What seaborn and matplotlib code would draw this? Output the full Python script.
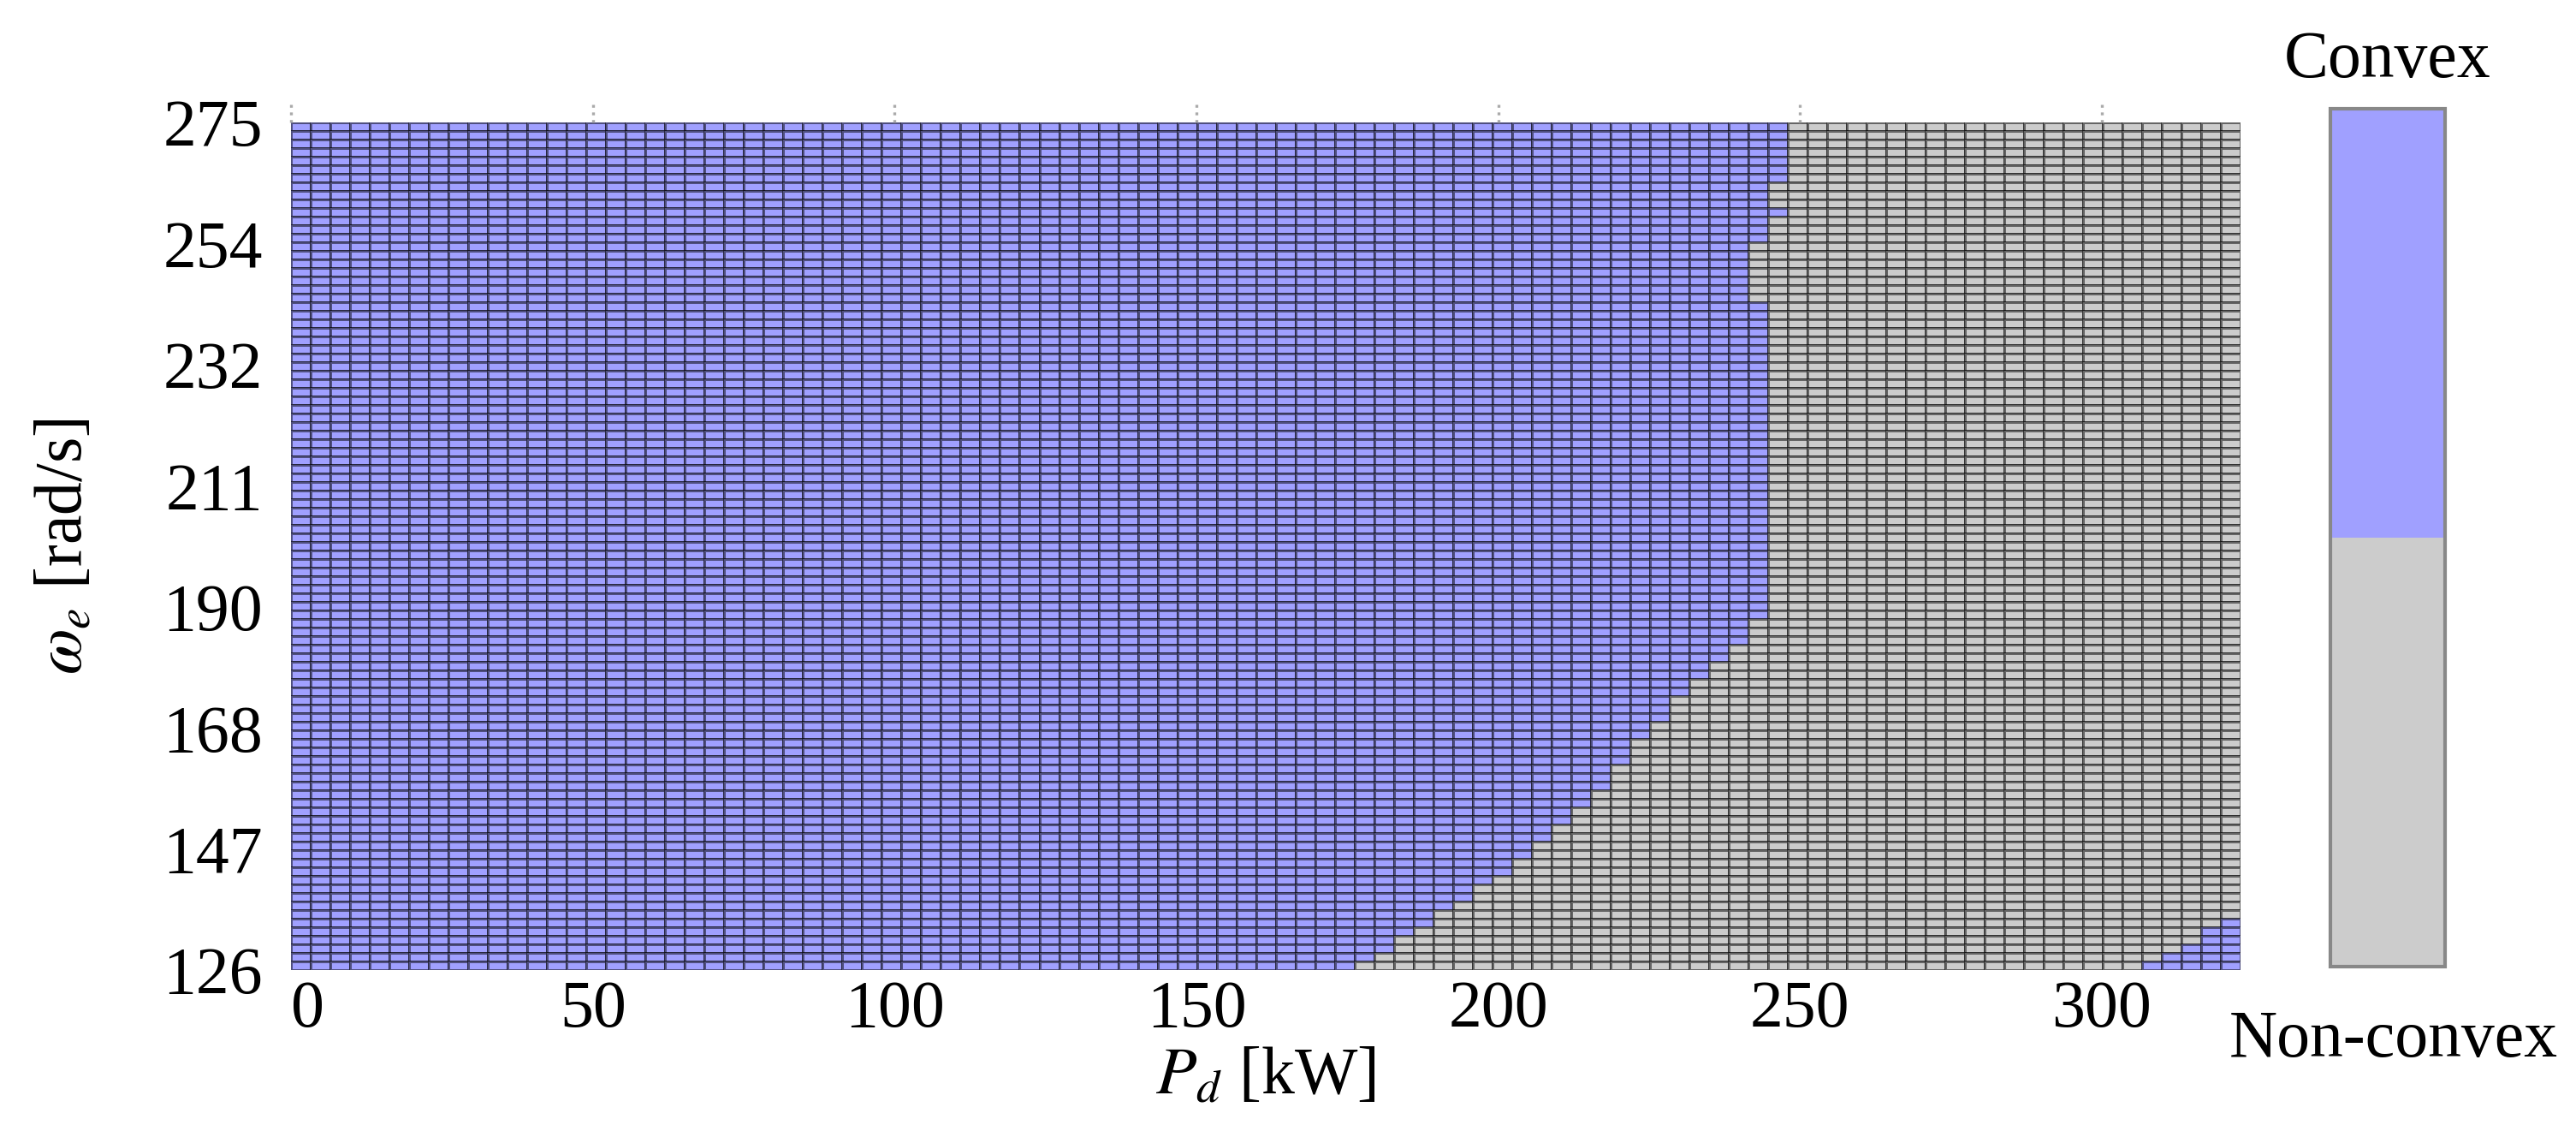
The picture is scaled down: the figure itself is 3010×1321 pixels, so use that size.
import numpy as np
import pandas as pd
import matplotlib
matplotlib.use('Agg')
import matplotlib.pyplot as plt
import seaborn as sns
from matplotlib.colors import ListedColormap

# Grid limits (cell edges) and tick labels
p_min, p_max = 0, 323            # P_d [kW]
w_min, w_max = 125.66, 275.0     # omega_e [rad/s]
n_cols, n_rows = 99, 99
p_ticks = [0, 50, 100, 150, 200, 250, 300]
w_ticks = [125.66, 147.0, 168.3, 189.7, 211.0, 232.3, 253.7, 275.0]
w_tick_labels = ['126', '147', '168', '190', '211', '232', '254', '275']

# Convex region: (number of rows, convex columns from the left),
# going from the top row (275 rad/s) down to the bottom row (126 rad/s)
boundary_runs = [
    (7, 76), (3, 75), (1, 76), (3, 75), (7, 74), (37, 75),
    (3, 74), (2, 73), (2, 72), (2, 71), (3, 70), (2, 69),
    (3, 68), (3, 67), (2, 66), (2, 65), (2, 64), (2, 63),
    (2, 62), (1, 61), (2, 60), (1, 59), (2, 58), (1, 57),
    (2, 56), (1, 55), (1, 54),
]
# Small convex patch in the bottom-right corner: row index (from top), first convex column
corner_rows = [93, 94, 95, 96, 97, 98]
corner_from = [98, 97, 97, 96, 95, 94]

convex_labels = ['Non-convex', 'Convex']
cores = ['#cccccc', '#a0a0ff']

# Montar a matriz
n_run = [r[0] for r in boundary_runs]
b_run = [r[1] for r in boundary_runs]
limite = np.repeat(b_run, n_run)
colunas = np.arange(n_cols)
grade = (colunas[None, :] < limite[:, None]).astype(float)
for r, c0 in zip(corner_rows, corner_from):
    grade[r, c0:] = 1

df = pd.DataFrame(grade)

sns.set_theme(style='white')
plt.rcParams['font.family'] = ['Liberation Serif', 'DejaVu Serif']
plt.rcParams['mathtext.fontset'] = 'stix'
for k in ['text.color', 'axes.labelcolor', 'xtick.color', 'ytick.color']:
    plt.rcParams[k] = 'black'

fig = plt.figure(figsize=(15.05, 6.605), dpi=200)
ax = fig.add_axes([0.1130, 0.1423, 0.7568, 0.7494])
cax = fig.add_axes([0.9047, 0.1454, 0.0445, 0.7585])

sns.heatmap(df, ax=ax, cbar_ax=cax, cmap=ListedColormap(cores), vmin=0, vmax=1,
            linewidths=0.9, linecolor=(0, 0, 0, 0.5),
            xticklabels=False, yticklabels=False)

# Ticks in data units -> cell coordinates
xpos = [p / (p_max - p_min) * n_cols for p in p_ticks]
ypos = [(w_max - w) / (w_max - w_min) * n_rows for w in w_ticks]
ax.set_xticks(xpos)
ax.set_xticklabels([str(p) for p in p_ticks], rotation=0, fontsize=28)
ax.set_yticks(ypos)
ax.set_yticklabels(w_tick_labels, rotation=0, fontsize=28)
ax.tick_params(axis='x', length=0, pad=4)
ax.tick_params(axis='y', length=0, pad=12)
ax.get_xticklabels()[0].set_ha('left')

# marcas pontilhadas no topo
ax.vlines(xpos, 1.0, 1.022, transform=ax.get_xaxis_transform(), colors='#aaaaaa',
          linestyles=':', linewidth=1.2, clip_on=False)

ax.set_xlabel(r'$P_d$ [kW]', fontsize=28)
ax.set_ylabel(r'$\omega_e$ [rad/s]', fontsize=28)
ax.xaxis.set_label_coords(0.5, -0.09)
ax.yaxis.set_label_coords(-0.1, 0.5)

cbar = ax.collections[0].colorbar
cbar.set_ticks([])
cbar.outline.set_edgecolor('#888888')
cbar.outline.set_linewidth(1.5)
cax.text(0.5, 1.02, convex_labels[1], ha='center', va='bottom', fontsize=28,
         transform=cax.transAxes)
cax.text(0.55, -0.05, convex_labels[0], ha='center', va='top', fontsize=28,
         transform=cax.transAxes)

plt.savefig('out.png', dpi=200)
